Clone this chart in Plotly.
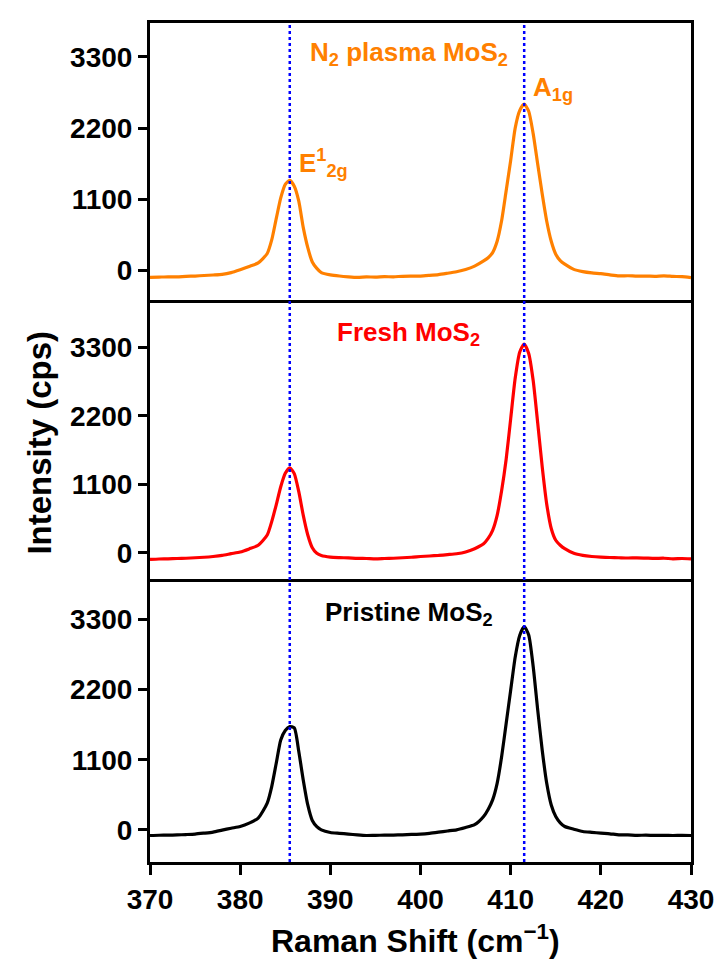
import plotly.graph_objects as go
from plotly.subplots import make_subplots

# Raman shift grid (cm^-1)
raman_shift = [370, 371, 372, 373, 374, 375, 376, 377, 378, 379, 380, 381, 382, 383,
               383.5, 384, 384.5, 385, 385.5, 386, 386.5, 387, 387.5, 388, 388.5, 389,
               390, 391, 392, 393, 394, 395, 396, 397, 398, 399, 400, 401, 402, 403, 404,
               405, 406, 407, 407.5, 408, 408.5, 409, 409.5, 410, 410.5, 411, 411.5, 412,
               412.5, 413, 413.5, 414, 414.5, 415, 415.5, 416, 417, 418, 419, 420, 421,
               422, 423, 424, 425, 426, 427, 428, 429, 430]

# N2 plasma MoS2 intensity (cps)
n2_plasma = [-110, -105, -100, -102, -92, -88, -80, -72, -62, -35, 10, 60, 115, 260,
             470, 800, 1120, 1330, 1390, 1300, 1070, 660, 350, 130, 30, -35,
             -70, -88, -100, -108, -102, -104, -98, -100, -92, -90, -88, -78, -66, -45, -22,
             12, 65, 145, 195, 275, 450, 770, 1230, 1700, 2200, 2470, 2570, 2460,
             2110, 1640, 1180, 760, 450, 250, 150, 95, 15, -20, -40, -52, -70,
             -86, -84, -90, -88, -92, -86, -94, -98, -112]

# Fresh MoS2 intensity (cps)
fresh = [-107, -100, -98, -92, -88, -80, -72, -60, -43, -15, 12, 62, 120, 285,
         500, 770, 1060, 1275, 1365, 1270, 980, 600, 285, 80, -10, -45,
         -70, -78, -82, -90, -92, -97, -92, -88, -80, -72, -60, -52, -43, -30, -16,
         12, 65, 145, 230, 360, 600, 1000, 1500, 2150, 2800, 3220, 3350, 3200,
         2760, 2080, 1380, 780, 390, 200, 120, 65, -10, -43, -60, -70, -76,
         -80, -84, -82, -86, -90, -88, -97, -92, -97]

# Pristine MoS2 intensity (cps)
pristine = [-89, -85, -84, -80, -74, -67, -52, -35, -5, 25, 52, 105, 185, 420,
            680, 1045, 1410, 1560, 1620, 1600, 1230, 780, 390, 146, 50, 0,
            -42, -55, -67, -80, -89, -86, -84, -82, -78, -72, -67, -55, -37, -18, 0,
            37, 80, 210, 320, 470, 730, 1150, 1670, 2190, 2710, 3050, 3190, 3060,
            2560, 1880, 1250, 730, 390, 210, 110, 52, 10, -26, -40, -52, -62,
            -78, -80, -86, -84, -88, -86, -89, -88, -89]

series_names = ["N<sub>2</sub> plasma MoS<sub>2</sub>", "Fresh MoS<sub>2</sub>", "Pristine MoS<sub>2</sub>"]
series_colors = ["#ff8000", "#ff0000", "#000000"]
y_ranges = [[-500, 3825], [-475, 4015], [-505, 3885]]
y_ticks = [0, 1100, 2200, 3300]
x_ticks = [370, 380, 390, 400, 410, 420, 430]
peak_positions = [385.5, 411.5]

FONT = "Liberation Sans, Arial, sans-serif"

fig = make_subplots(rows=3, cols=1, shared_xaxes=True, vertical_spacing=0)

for i, (vals, col) in enumerate(zip([n2_plasma, fresh, pristine], series_colors)):
    fig.add_trace(go.Scatter(x=raman_shift, y=vals, mode="lines",
                             line=dict(color=col, width=3.2, shape="spline", smoothing=0.6),
                             showlegend=False), row=i + 1, col=1)

for i in range(3):
    last = (i == 2)
    fig.update_xaxes(range=[370, 430], showline=True, mirror=last, linewidth=3,
                     side="bottom" if last else "top",
                     linecolor="black", showgrid=False, zeroline=False,
                     tickvals=x_ticks if last else [],
                     ticks="outside" if last else "", ticklen=10, tickwidth=3,
                     tickcolor="black", showticklabels=last,
                     tickfont=dict(family=FONT, size=28, color="black", weight="bold"),
                     row=i + 1, col=1)
    fig.update_yaxes(range=y_ranges[i], showline=True, mirror=True, linewidth=3,
                     linecolor="black", showgrid=False, zeroline=False,
                     tickvals=y_ticks, ticks="outside", ticklen=9, tickwidth=3,
                     tickcolor="black", ticklabelstandoff=0,
                     tickfont=dict(family=FONT, size=28, color="black", weight="bold"),
                     row=i + 1, col=1)

for p in peak_positions:
    fig.add_shape(type="line", xref="x", yref="paper", x0=p, x1=p, y0=0, y1=1,
                  line=dict(color="#0000ff", width=2.5, dash="dot"), layer="above")

yrefs = ["y domain", "y2 domain", "y3 domain"]
for name, col, yr in zip(series_names, series_colors, yrefs):
    fig.add_annotation(text=name, x=398.7, xref="x", y=0.89, yref=yr,
                       xanchor="center", yanchor="middle", showarrow=False,
                       font=dict(family=FONT, size=26, color=col, weight="bold"))

fig.add_annotation(text="E<sup>1</sup><sub>2g</sub>", x=386.3, xref="x", y=0.50, yref="y domain",
                   xanchor="left", yanchor="middle", showarrow=False,
                   font=dict(family=FONT, size=26, color="#ff8000", weight="bold"))
fig.add_annotation(text="A<sub>1g</sub>", x=412.3, xref="x", y=0.765, yref="y domain",
                   xanchor="left", yanchor="middle", showarrow=False,
                   font=dict(family=FONT, size=26, color="#ff8000", weight="bold"))

fig.add_annotation(text="Intensity (cps)", x=-0.205, xref="paper", y=0.5, yref="paper",
                   xanchor="center", yanchor="middle", textangle=-90, showarrow=False,
                   font=dict(family=FONT, size=33, color="black", weight="bold"))
fig.add_annotation(text="Raman Shift (cm<sup>\u22121</sup>)", x=0.49, xref="paper", y=-0.092, yref="paper",
                   xanchor="center", yanchor="middle", showarrow=False,
                   font=dict(family=FONT, size=32, color="black", weight="bold"))

fig.update_layout(width=726, height=960, margin=dict(l=150, r=28, t=23, b=98),
                  plot_bgcolor="white", paper_bgcolor="white")

fig.write_html("out.html")
